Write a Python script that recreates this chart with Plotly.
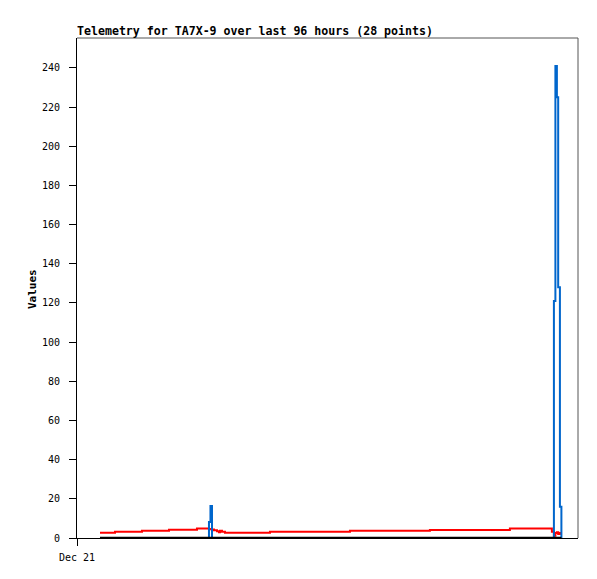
import plotly.graph_objects as go
from datetime import datetime, timedelta

# ---- data ----
start = datetime(2024, 12, 21, 0, 0)
hours = [4.79, 7.92, 13.54, 19.17, 25.0, 27.5, 27.81, 28.13, 28.54, 29.17,
         29.58, 29.79, 30.21, 30.83, 40.21, 48.54, 56.88, 65.21, 73.54, 81.88,
         90.21, 98.96, 99.38, 99.69, 100.0, 100.27, 100.63, 100.94]
red_vals = [2.7, 3.2, 3.7, 4.2, 4.8, 4.6, 4.5, 4.4, 3.9, 3.4,
            2.9, 3.7, 3.2, 2.7, 3.2, 3.2, 3.7, 3.7, 4.1, 4.1,
            4.9, 3.2, 1.2, 2.5, 2.9, 2.0, 2.5, 2.5]
blue_vals = [0, 0, 0, 0, 0, 8.2, 16.3, 0, 0, 0,
             0, 0, 0, 0, 0, 0, 0, 0, 0, 0,
             0, 0, 121, 241, 225, 128, 16, 0]
black_vals = [0] * 28
title_text = "Telemetry for TA7X-9 over last 96 hours (28 points)"
y_ticks = list(range(0, 241, 20))
x_tick_label = "Dec 21"

times = [start + timedelta(hours=h) for h in hours]
x_end = start + timedelta(hours=104.4)

FONT = "DejaVu Sans Mono"
W, H = 597, 579
OFF = 8  # page body margin

fig = go.Figure()
fig.add_trace(go.Scatter(x=times, y=red_vals, mode="lines", line_shape="hv",
                         line=dict(color="#ff0000", width=2), cliponaxis=False,
                         showlegend=False))
fig.add_trace(go.Scatter(x=times, y=blue_vals, mode="lines", line_shape="hv",
                         line=dict(color="#0066cc", width=2), cliponaxis=False,
                         showlegend=False))
fig.add_trace(go.Scatter(x=times, y=black_vals, mode="lines", line_shape="hv",
                         line=dict(color="#000000", width=2.5), cliponaxis=False,
                         showlegend=False))

fig.update_layout(
    width=W, height=H,
    margin=dict(l=77 - OFF, r=W - (578 - OFF), t=38 - OFF, b=H - (538 - OFF)),
    paper_bgcolor="white", plot_bgcolor="white",
    font=dict(family=FONT, size=10, color="#000"),
    title=dict(text="<b>" + title_text + "</b>", x=(77 - OFF) / W, xref="container",
               xanchor="left", y=1 - (31 - OFF) / H, yref="container", yanchor="middle",
               font=dict(family=FONT, size=11.6, color="#000")),
    xaxis=dict(range=[start, x_end], showgrid=False, zeroline=False,
               showline=True, linecolor="#000", linewidth=1,
               ticks="outside", ticklen=7, tickcolor="#000",
               tickvals=[start], ticktext=[x_tick_label], ticklabelstandoff=3,
               tickfont=dict(family=FONT, size=10, color="#000")),
    yaxis=dict(range=[0, 255.3], showgrid=False, zeroline=False,
               showline=True, linecolor="#000", linewidth=1,
               ticks="outside", ticklen=7, tickcolor="#000", ticklabelstandoff=7,
               tickvals=y_ticks, tickfont=dict(family=FONT, size=10, color="#000")),
    shapes=[
        dict(type="line", xref="paper", yref="paper", x0=0, x1=1, y0=1, y1=1,
             line=dict(color="#555", width=1)),
        dict(type="line", xref="paper", yref="paper", x0=1, x1=1, y0=0, y1=1,
             line=dict(color="#555", width=1)),
    ],
    annotations=[
        dict(text="<b>Values</b>", xref="paper", yref="paper", x=(32 - 77) / 501,
             y=0.498, textangle=-90, showarrow=False, xanchor="center",
             yanchor="middle", font=dict(family=FONT, size=11, color="#000")),
    ],
)

fig.write_html("out.html")
